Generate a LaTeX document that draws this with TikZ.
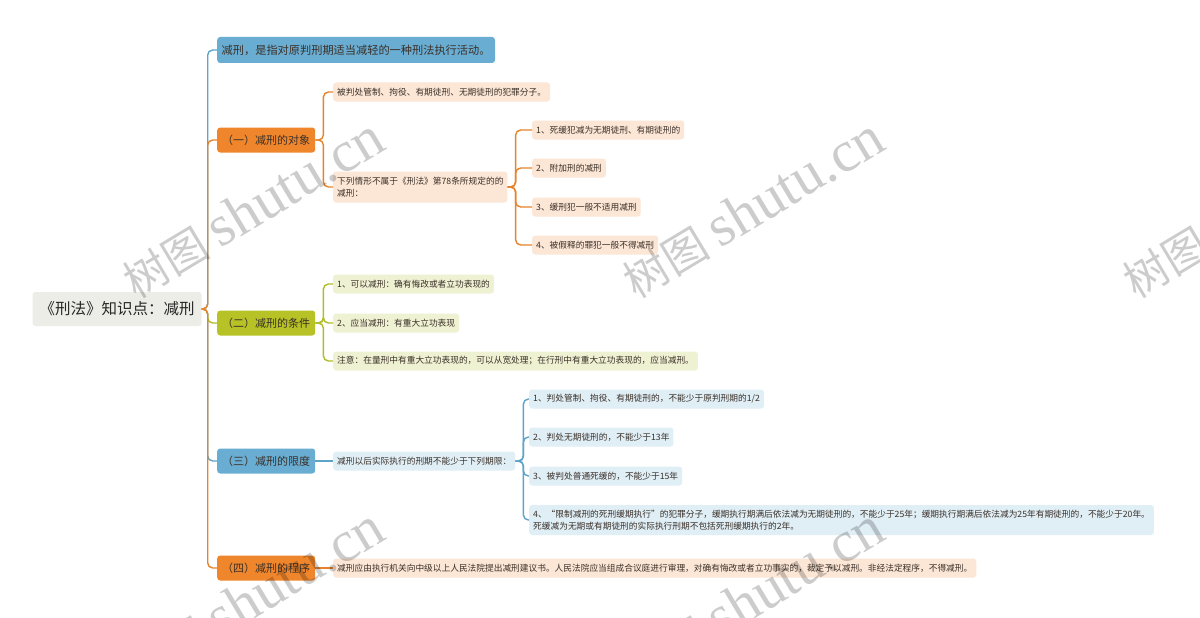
\documentclass[tikz,border=0pt]{standalone}
\usepackage{fontspec}
\setmainfont{Noto Sans CJK SC}
\newfontfamily\wmfont{Liberation Serif}
\usepackage{xcolor}
\usetikzlibrary{positioning}
\definecolor{rootfill}{HTML}{EDEDE7}
\definecolor{bluefill}{HTML}{6AADD2}
\definecolor{orangefill}{HTML}{F0862C}
\definecolor{olivefill}{HTML}{B6C225}
\definecolor{peachleaf}{HTML}{FCE6D6}
\definecolor{oliveleaf}{HTML}{EFF1D3}
\definecolor{blueleaf}{HTML}{E0EEF6}
\definecolor{blueline}{HTML}{5FA4C8}
\definecolor{orangeline}{HTML}{E6842E}
\definecolor{oliveline}{HTML}{B0BC28}
\definecolor{inktext}{HTML}{3A3028}
\tikzset{
root/.style={fill=rootfill, rounded corners=3pt, inner xsep=7pt, minimum height=34pt, font=\fontsize{15.5}{18}\selectfont, text=black!85},
branch/.style={fill=#1, rounded corners=3pt, inner xsep=5pt, minimum height=25pt, font=\fontsize{11}{13}\selectfont, text=inktext, anchor=west},
leaf/.style={fill=#1, rounded corners=3pt, inner xsep=4pt, inner ysep=2pt, minimum height=19pt, font=\fontsize{8.7}{12}\selectfont, text=inktext, anchor=west, align=left},
link/.style={draw=#1, line width=1.4pt, rounded corners=5pt},
wm/.style={text=black, text opacity=0.2, rotate=31}
}
\newcommand{\wmtext}{{\fontsize{44}{50}\selectfont 树图\ \wmfont\fontsize{58}{60}\selectfont shutu.cn}}

\begin{document}
\begin{tikzpicture}[x=1pt, y=-1pt]
  \useasboundingbox[fill=white] (0,0) rectangle (1200,618);
  \clip (0,0) rectangle (1200,618);
  \node[root] (root) at (117,309) {《刑法》知识点：减刑};
  \node[branch=bluefill, font=\fontsize{11.2}{13}\selectfont, inner xsep=4.5pt, minimum height=26pt] (def) at (217,50) {减刑，是指对原判刑期适当减轻的一种刑法执行活动。};
  \node[branch=orangefill] (obj) at (217,140) {（一）减刑的对象};
  \node[branch=olivefill] (cond) at (217,323) {（二）减刑的条件};
  \node[branch=bluefill] (lim) at (217,461) {（三）减刑的限度};
  \node[branch=orangefill] (proc) at (217,568) {（四）减刑的程序};
  % (一)
  \node[leaf=peachleaf] (obja) at (333,92) {被判处管制、拘役、有期徒刑、无期徒刑的犯罪分子。};
  \node[leaf=peachleaf, minimum height=31pt] (objb) at (333,187) {下列情形不属于《刑法》第78条所规定的的\\减刑：};
  \node[leaf=peachleaf] (objb1) at (532,130) {1、死缓犯减为无期徒刑、有期徒刑的};
  \node[leaf=peachleaf] (objb2) at (532,168) {2、附加刑的减刑};
  \node[leaf=peachleaf] (objb3) at (532,207) {3、缓刑犯一般不适用减刑};
  \node[leaf=peachleaf] (objb4) at (532,245) {4、被假释的罪犯一般不得减刑};
  % (二)
  \node[leaf=oliveleaf] (conda) at (333,284) {1、可以减刑：确有悔改或者立功表现的};
  \node[leaf=oliveleaf] (condb) at (333,323) {2、应当减刑：有重大立功表现};
  \node[leaf=oliveleaf] (condc) at (333,361) {注意：在量刑中有重大立功表现的，可以从宽处理；在行刑中有重大立功表现的，应当减刑。};
  % (三)
  \node[leaf=blueleaf] (lima) at (333,461) {减刑以后实际执行的刑期不能少于下列期限：};
  \node[leaf=blueleaf] (lima1) at (529,399) {1、判处管制、拘役、有期徒刑的，不能少于原判刑期的1/2};
  \node[leaf=blueleaf] (lima2) at (529,437) {2、判处无期徒刑的，不能少于13年};
  \node[leaf=blueleaf] (lima3) at (529,476) {3、被判处普通死缓的，不能少于15年};
  \node[leaf=blueleaf, minimum height=30pt] (lima4) at (529,520) {4、“限制减刑的死刑缓期执行”的犯罪分子，缓期执行期满后依法减为无期徒刑的，不能少于25年；缓期执行期满后依法减为25年有期徒刑的，不能少于20年。\\死缓减为无期或有期徒刑的实际执行刑期不包括死刑缓期执行的2年。};
  % (四)
  \node[leaf=peachleaf] (proca) at (333,568) {减刑应由执行机关向中级以上人民法院提出减刑建议书。人民法院应当组成合议庭进行审理，对确有悔改或者立功事实的，裁定予以减刑。非经法定程序，不得减刑。};

  \draw[link=blueline] (root.east) -- ++(6,0) |- (def.west);
  \draw[link=blueline] (root.east) -- ++(6,0) |- (lim.west);
  \draw[link=oliveline] (root.east) -- ++(6,0) |- (cond.west);
  \draw[link=orangeline] (root.east) -- ++(6,0) |- (obj.west);
  \draw[link=orangeline] (root.east) -- ++(6,0) |- (proc.west);
  \foreach \c in {obja,objb}
    \draw[link=orangeline] (obj.east) -- ++(8,0) |- (\c.west);
  \foreach \c in {objb1,objb2,objb3,objb4}
    \draw[link=orangeline] (objb.east) -- ++(8,0) |- (\c.west);
  \foreach \c in {conda,condb,condc}
    \draw[link=oliveline] (cond.east) -- ++(8,0) |- (\c.west);
  \draw[link=blueline] (lim.east) -- (lima.west);
  \foreach \c in {lima1,lima2,lima3,lima4}
    \draw[link=blueline] (lima.east) -- ++(8,0) |- (\c.west);
  \draw[link=orangeline] (proc.east) -- (proca.west);

  \foreach \x/\y [count=\i] in {253/208, 753/208, 1253/208, 253/598, 753/598}
    \node[wm] (wm\i) at (\x,\y) {\wmtext};
\end{tikzpicture}
\end{document}
